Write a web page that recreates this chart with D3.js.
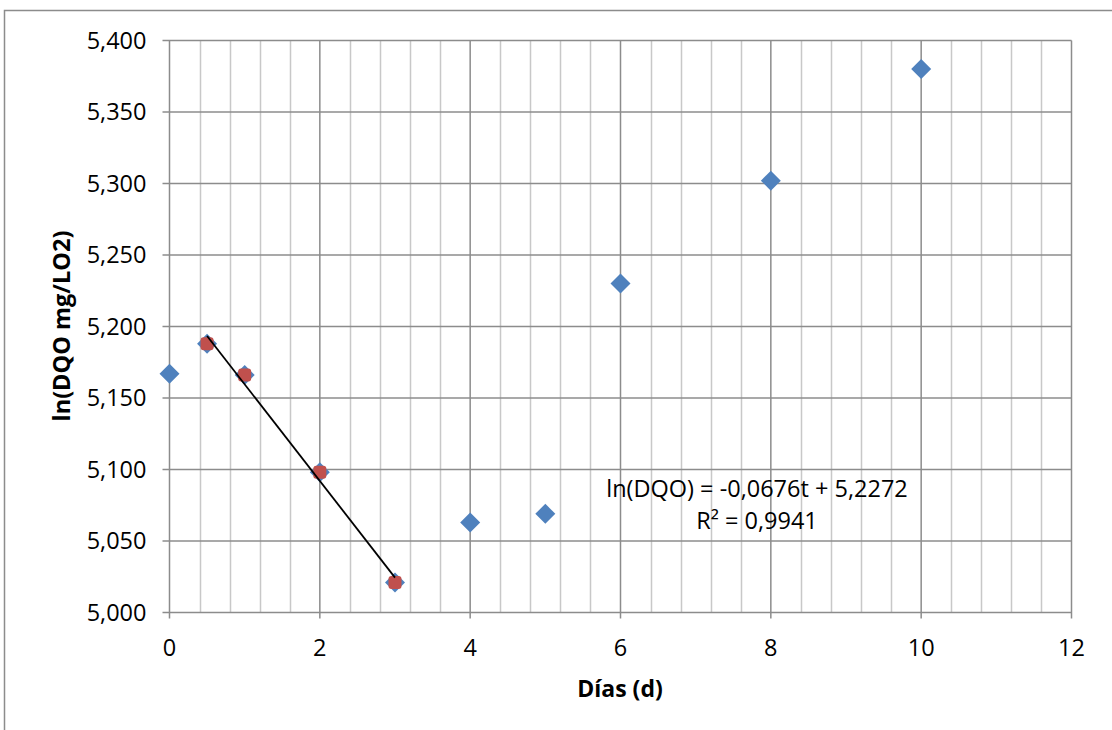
<!DOCTYPE html>
<html>
<head>
<meta charset="utf-8">
<script src="https://cdn.jsdelivr.net/npm/d3@7"></script>
<style>
  body { margin: 0; background: #fff; }
  svg { display: block; font-family: "Open Sans", sans-serif; }
</style>
</head>
<body>
<svg id="chart" width="1112" height="730"></svg>
<script>
// observed values
const days = [0, 0.5, 1, 2, 3, 4, 5, 6, 8, 10];
const lnDqo = [5.167, 5.188, 5.166, 5.098, 5.021, 5.063, 5.069, 5.230, 5.302, 5.380];

// points used for the linear fit
const fitDays = [0.5, 1, 2, 3];
const fitLn = [5.188, 5.166, 5.098, 5.021];

// trend line from the fit label
const slope = -0.0676;
const intercept = 5.2272;
const rSquared = 0.9941;

const xTicks = [0, 2, 4, 6, 8, 10, 12];
const yTicks = [5.0, 5.05, 5.1, 5.15, 5.2, 5.25, 5.3, 5.35, 5.4];

const svg = d3.select('#chart');
const plot = { left: 169.5, right: 1071.5, top: 40.5, bottom: 612.5 };

const x = d3.scaleLinear().domain([0, 12]).range([plot.left, plot.right]);
const y = d3.scaleLinear().domain([5.0, 5.4]).range([plot.bottom, plot.top]);
const fmt = v => d3.format(',.3f')(v).replace('.', ',');

// chart frame
svg.append('rect')
  .attr('x', 4.5).attr('y', 10.5)
  .attr('width', 1130).attr('height', 740)
  .attr('fill', 'none').attr('stroke', '#8c8c8c').attr('stroke-width', 1.5);

// minor vertical grid every 0.4
const minor = d3.range(0, 12.001, 0.4).filter(v => Math.abs(v / 2 - Math.round(v / 2)) > 0.01);
svg.append('g').selectAll('line').data(minor).join('line')
  .attr('x1', d => Math.round(x(d)) + 0.5).attr('x2', d => Math.round(x(d)) + 0.5)
  .attr('y1', plot.top).attr('y2', plot.bottom)
  .attr('stroke', '#c8c8c8').attr('stroke-width', 1.5);

// major grid
svg.append('g').selectAll('line').data(xTicks).join('line')
  .attr('x1', d => x(d)).attr('x2', d => x(d))
  .attr('y1', plot.top).attr('y2', plot.bottom + 6)
  .attr('stroke', '#8c8c8c').attr('stroke-width', 1.5);

svg.append('g').selectAll('line').data(yTicks).join('line')
  .attr('x1', plot.left - 7).attr('x2', plot.right)
  .attr('y1', d => y(d)).attr('y2', d => y(d))
  .attr('stroke', '#8c8c8c').attr('stroke-width', 1.5);

// tick labels
svg.append('g').selectAll('text').data(yTicks).join('text')
  .attr('x', plot.left - 23).attr('y', d => y(d) + 8)
  .attr('text-anchor', 'end')
  .attr('font-size', 23.5).attr('fill', '#000')
  .text(fmt);

svg.append('g').selectAll('text').data(xTicks).join('text')
  .attr('x', d => x(d)).attr('y', 656)
  .attr('text-anchor', 'middle')
  .attr('font-size', 23.5).attr('fill', '#000')
  .text(d => d);

// axis titles
svg.append('text')
  .attr('x', 620).attr('y', 697)
  .attr('text-anchor', 'middle')
  .attr('font-size', 23).attr('font-weight', 'bold')
  .text('Días (d)');

svg.append('text')
  .attr('transform', 'translate(70,326) rotate(-90)')
  .attr('text-anchor', 'middle')
  .attr('font-size', 23.5).attr('font-weight', 'bold')
  .text('ln(DQO mg/LO2)');

// observed series: blue diamonds
const r = 10;
svg.append('g').selectAll('path').data(days.map((d, i) => [d, lnDqo[i]])).join('path')
  .attr('d', d => `M${x(d[0])},${y(d[1]) - r}L${x(d[0]) + r},${y(d[1])}L${x(d[0])},${y(d[1]) + r}L${x(d[0]) - r},${y(d[1])}Z`)
  .attr('fill', '#4f81bd');

// fit series: red squares
const s = 13;
svg.append('g').selectAll('rect').data(fitDays.map((d, i) => [d, fitLn[i]])).join('rect')
  .attr('x', d => x(d[0]) - s / 2).attr('y', d => y(d[1]) - s / 2)
  .attr('width', s).attr('height', s).attr('rx', 3)
  .attr('fill', '#c0504d');

// trend line
const tEnds = d3.extent(fitDays);
svg.append('line')
  .attr('x1', x(tEnds[0])).attr('y1', y(intercept + slope * tEnds[0]))
  .attr('x2', x(tEnds[1])).attr('y2', y(intercept + slope * tEnds[1]))
  .attr('stroke', '#000').attr('stroke-width', 1.8);

// equation label
const eq = svg.append('text').attr('text-anchor', 'middle').attr('font-size', 23.5);
eq.append('tspan').attr('x', 757).attr('y', 497)
  .text(`ln(DQO) = ${String(slope).replace('.', ',')}t + ${String(intercept).replace('.', ',')}`);
eq.append('tspan').attr('x', 757).attr('y', 529)
  .text(`R² = ${String(rSquared).replace('.', ',')}`);
</script>
</body>
</html>
